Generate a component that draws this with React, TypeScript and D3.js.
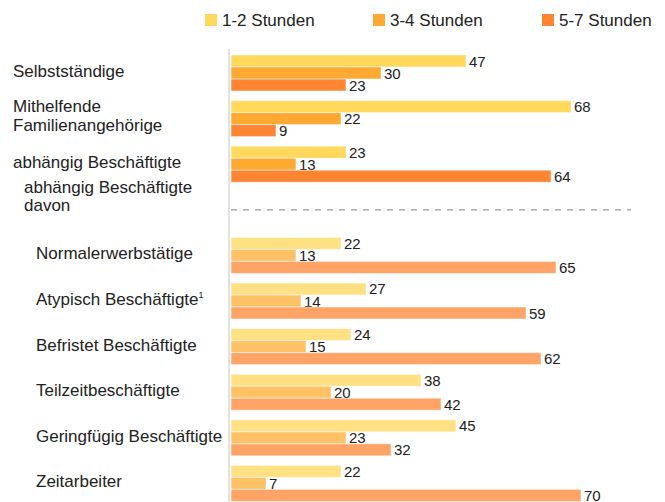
import React, { useEffect, useRef } from "react";
import * as d3 from "d3";

const categories = [
  "Selbstständige",
  "Mithelfende Familienangehörige",
  "abhängig Beschäftigte",
  "Normalerwerbstätige",
  "Atypisch Beschäftigte",
  "Befristet Beschäftigte",
  "Teilzeitbeschäftigte",
  "Geringfügig Beschäftigte",
  "Zeitarbeiter",
];
const seriesNames = ["1-2 Stunden", "3-4 Stunden", "5-7 Stunden"];
const h12 = [47, 68, 23, 22, 27, 24, 38, 45, 22];
const h34 = [30, 22, 13, 13, 14, 15, 20, 23, 7];
const h57 = [23, 9, 64, 65, 59, 62, 42, 32, 70];

const strongColors = ["#FFD85C", "#FFA933", "#FF8533"];
const lightColors = ["#FFE082", "#FFC166", "#FFA366"];

const App = () => {
  const ref = useRef<SVGSVGElement>(null);

  useEffect(() => {
    const width = 665;
    const height = 502;
    const svg = d3.select(ref.current);
    svg.selectAll("*").remove();

    // rows incl. the empty "davon" slot between main and sub groups
    const rows = [...categories.slice(0, 3), "__davon", ...categories.slice(3)];

    const x = d3.scaleLinear().domain([0, 70]).range([231, 581]);
    const y = d3
      .scaleBand()
      .domain(rows)
      .range([55, 501.4])
      .paddingInner(0.2105)
      .paddingOuter(0);
    const ySub = d3
      .scaleBand()
      .domain(seriesNames)
      .range([0, y.bandwidth()]);

    const font = "'Liberation Sans', Arial, sans-serif";

    // legend
    const legendX = [205, 373, 542];
    seriesNames.forEach((s, i) => {
      svg
        .append("rect")
        .attr("x", legendX[i])
        .attr("y", 14)
        .attr("width", 12)
        .attr("height", 12)
        .attr("fill", strongColors[i]);
      svg
        .append("text")
        .attr("x", legendX[i] + 17)
        .attr("y", 26)
        .attr("font-family", font)
        .attr("font-size", 17)
        .attr("fill", "#222")
        .text(s);
    });

    // axis line
    svg
      .append("line")
      .attr("x1", 229)
      .attr("x2", 229)
      .attr("y1", 49)
      .attr("y2", height)
      .attr("stroke", "#e2e2e2")
      .attr("stroke-width", 2);

    // dashed separator
    const sepY = y("__davon")! + y.bandwidth() / 2;
    svg
      .append("line")
      .attr("x1", 231)
      .attr("x2", 631)
      .attr("y1", sepY)
      .attr("y2", sepY)
      .attr("stroke", "#999")
      .attr("stroke-width", 1.2)
      .attr("stroke-dasharray", "6,6");

    const values = [h12, h34, h57];

    categories.forEach((c, ci) => {
      const cols = ci < 3 ? strongColors : lightColors;
      const top = y(c)!;
      seriesNames.forEach((s, si) => {
        const v = values[si][ci];
        const by = top + ySub(s)!;
        svg
          .append("rect")
          .attr("x", x(0))
          .attr("y", by)
          .attr("width", x(v) - x(0))
          .attr("height", ySub.bandwidth())
          .attr("fill", cols[si])
          .attr("stroke", "#fff")
          .attr("stroke-opacity", 0.5)
          .attr("stroke-width", 1);
        svg
          .append("text")
          .attr("x", x(v) + 3)
          .attr("y", by + ySub.bandwidth() - 0.5)
          .attr("font-family", font)
          .attr("font-size", 15)
          .attr("fill", "#222")
          .text(v);
      });

      // category label
      const mid = top + y.bandwidth() / 2;
      const lx = ci < 3 ? 13 : 36;
      const label = svg
        .append("text")
        .attr("font-family", font)
        .attr("font-size", 17)
        .attr("fill", "#222");
      if (c === "Mithelfende Familienangehörige") {
        label.append("tspan").attr("x", lx).attr("y", mid - 7).text("Mithelfende");
        label.append("tspan").attr("x", lx).attr("y", mid + 12).text("Familienangehörige");
      } else {
        label.attr("x", lx).attr("y", mid + 4).text(c);
        if (c === "Atypisch Beschäftigte") {
          label
            .append("tspan")
            .attr("font-size", 9)
            .attr("dy", -7)
            .text("1");
        }
      }
    });

    // "davon" label
    const dMid = y("__davon")! + y.bandwidth() / 2;
    const dl = svg
      .append("text")
      .attr("font-family", font)
      .attr("font-size", 17)
      .attr("fill", "#222");
    dl.append("tspan").attr("x", 24).attr("y", dMid - 17).text("abhängig Beschäftigte");
    dl.append("tspan").attr("x", 24).attr("y", dMid + 1).text("davon");

    svg.attr("width", width).attr("height", height);
  }, []);

  return (
    <div style={{ position: "absolute", left: 0, top: 0 }}>
      <svg ref={ref} width={665} height={502} style={{ display: "block", background: "#fff" }} />
    </div>
  );
};

export default App;
